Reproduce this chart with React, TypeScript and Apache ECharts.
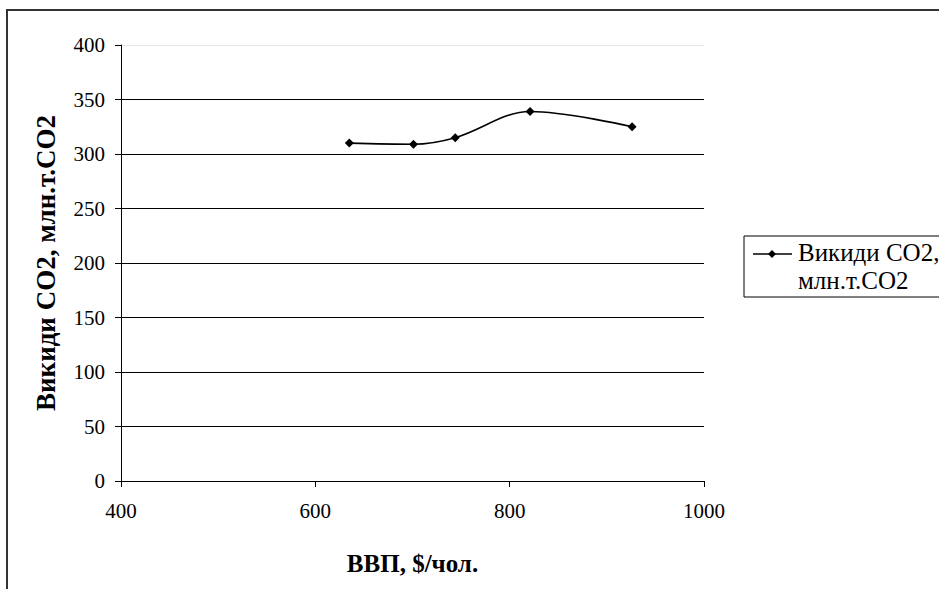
import React, { useEffect, useRef } from "react";
import * as echarts from "echarts";

const gdp = [635, 701, 744, 821, 926];
const co2 = [310, 309, 315, 339, 325];
const seriesName = "Викиди CO2, млн.т.CO2";
const legendLines = ["Викиди CO2,", "млн.т.CO2"];
const xTitle = "ВВП, $/чол.";
const yTitle = "Викиди CO2, млн.т.CO2";

export default function App() {
  const ref = useRef<HTMLDivElement>(null);
  useEffect(() => {
    if (!ref.current) return;
    const chart = echarts.init(ref.current, null, { renderer: "svg" });
    const font = "'Times New Roman', 'Liberation Serif', 'DejaVu Serif', serif";
    const gridColors = ["#000", "#000", "#000", "#000", "#000", "#000", "#000", "#000", "#e6e6e6"];
    chart.setOption({
      animation: false,
      backgroundColor: "#fff",
      textStyle: { fontFamily: font },
      grid: { left: 121, right: 235, top: 45, bottom: 108, containLabel: false },
      xAxis: {
        type: "value",
        min: 400,
        max: 1000,
        interval: 200,
        name: xTitle,
        nameLocation: "middle",
        nameGap: 70,
        nameTextStyle: { fontFamily: font, fontSize: 25, fontWeight: "bold", color: "#000" },
        axisLine: { show: true, onZero: false, lineStyle: { color: "#000", width: 1 } },
        axisTick: { show: true, length: 6, lineStyle: { color: "#000" } },
        axisLabel: { fontFamily: font, fontSize: 21, color: "#000", margin: 19, formatter: (v: number) => String(v) },
        splitLine: { show: false },
      },
      yAxis: {
        type: "value",
        min: 0,
        max: 400,
        interval: 50,
        name: yTitle,
        nameLocation: "middle",
        nameGap: 62,
        nameRotate: 90,
        nameTextStyle: { fontFamily: font, fontSize: 27, fontWeight: "bold", color: "#000" },
        axisLine: { show: true, lineStyle: { color: "#000", width: 1 } },
        axisTick: { show: true, length: 6, lineStyle: { color: "#000" } },
        axisLabel: { fontFamily: font, fontSize: 21, color: "#000", margin: 16 },
        splitLine: { show: true, lineStyle: { color: gridColors, width: 1 } },
      },
      series: [
        {
          name: seriesName,
          type: "line",
          data: gdp.map((x, i) => [x, co2[i]]),
          smooth: 0.35,
          symbol: "diamond",
          symbolSize: 9,
          itemStyle: { color: "#000" },
          lineStyle: { color: "#000", width: 1.6 },
        },
      ],
      graphic: [
        {
          type: "rect",
          shape: { x: 7, y: 10, width: 960, height: 620 },
          style: { fill: "none", stroke: "#333", lineWidth: 2 },
          silent: true,
        },
        {
          type: "rect",
          shape: { x: 744, y: 236, width: 260, height: 61 },
          style: { fill: "#fff", stroke: "#000", lineWidth: 1 },
          silent: true,
        },
        {
          type: "line",
          shape: { x1: 753, y1: 254, x2: 792, y2: 254 },
          style: { stroke: "#000", lineWidth: 1.6 },
          silent: true,
        },
        {
          type: "polygon",
          shape: { points: [[772, 250], [776, 254], [772, 258], [768, 254]] },
          style: { fill: "#000" },
          silent: true,
        },
        {
          type: "text",
          x: 798,
          y: 252,
          style: { text: legendLines[0], fontFamily: font, fontSize: 25, fill: "#000", verticalAlign: "middle" },
          silent: true,
        },
        {
          type: "text",
          x: 798,
          y: 280,
          style: { text: legendLines[1], fontFamily: font, fontSize: 25, fill: "#000", verticalAlign: "middle" },
          silent: true,
        },
      ],
    });
    return () => chart.dispose();
  }, []);
  return (
    <div
      ref={ref}
      style={{ position: "fixed", left: 0, top: 0, width: 939, height: 589, background: "#fff" }}
    />
  );
}
